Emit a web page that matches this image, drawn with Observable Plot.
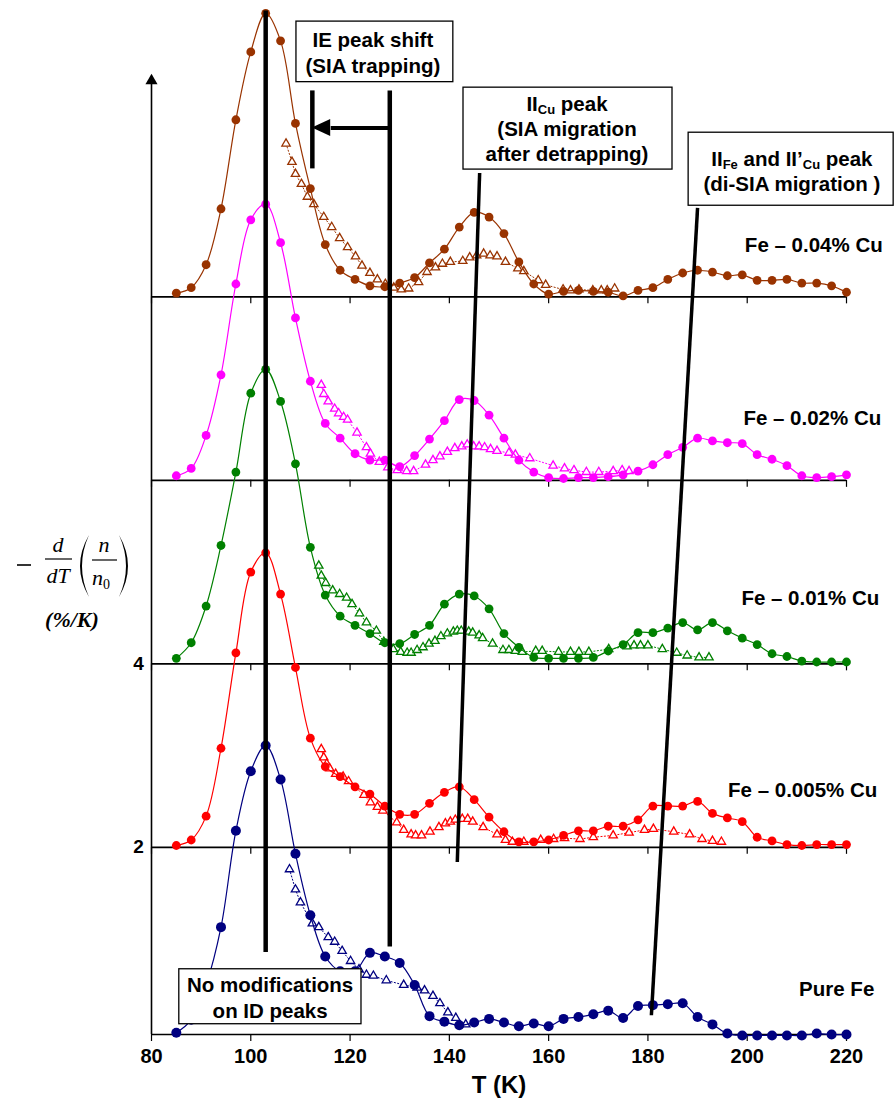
<!DOCTYPE html>
<html>
<head>
<meta charset="utf-8">
<script src="https://cdn.jsdelivr.net/npm/d3@7"></script>
<script src="https://cdn.jsdelivr.net/npm/@observablehq/plot@0.6"></script>
<style>
  body { margin: 0; background: #fff; }
  #chart { width: 896px; height: 1108px; }
</style>
</head>
<body>
<div id="chart"></div>
<script>
// ---- Measurement temperatures (K) of the filled-circle runs ----
const tempsFilled = [85, 88, 91, 94, 97, 100, 103, 106, 109, 112, 115, 118, 121, 124, 127, 130,
  133, 136, 139, 142, 145, 148, 151, 154, 157, 160, 163, 166, 169, 172, 175, 178, 181, 184,
  187, 190, 193, 196, 199, 202, 205, 208, 211, 214, 217, 220];

// ---- -d/dT(n/n0) (%/K), filled circles, relative to each curve's own baseline ----
const cu004 = [0.04, 0.10, 0.35, 0.96, 1.93, 2.67, 3.09, 2.79, 1.89, 1.18, 0.57, 0.29, 0.19, 0.12, 0.11, 0.15,
  0.21, 0.37, 0.52, 0.76, 0.92, 0.87, 0.69, 0.38, 0.14, 0.03, 0.06, 0.07, 0.06, 0.05, 0.01, 0.07, 0.10, 0.19,
  0.26, 0.29, 0.27, 0.23, 0.24, 0.18, 0.18, 0.19, 0.15, 0.15, 0.12, 0.05];
const cu002 = [0.05, 0.13, 0.49, 1.15, 2.14, 2.84, 3.01, 2.59, 1.77, 1.08, 0.62, 0.46, 0.29, 0.22, 0.22, 0.15,
  0.27, 0.45, 0.65, 0.88, 0.87, 0.71, 0.46, 0.22, 0.09, 0.03, 0.02, 0.03, 0.03, 0.04, 0.06, 0.10, 0.17, 0.28,
  0.36, 0.46, 0.43, 0.41, 0.40, 0.28, 0.23, 0.16, 0.05, 0.03, 0.04, 0.06];
const cu001 = [0.06, 0.23, 0.63, 1.29, 2.09, 2.95, 3.21, 2.86, 2.18, 1.27, 0.75, 0.52, 0.42, 0.33, 0.23, 0.22,
  0.32, 0.42, 0.65, 0.76, 0.74, 0.60, 0.33, 0.18, 0.07, 0.06, 0.06, 0.06, 0.07, 0.14, 0.21, 0.34, 0.34, 0.39,
  0.45, 0.37, 0.45, 0.36, 0.28, 0.21, 0.11, 0.08, 0.03, 0.02, 0.02, 0.02];
const cu0005 = [0.02, 0.08, 0.34, 1.08, 2.12, 3.00, 3.21, 2.76, 1.96, 1.19, 0.88, 0.77, 0.66, 0.58, 0.45, 0.36,
  0.36, 0.48, 0.60, 0.66, 0.52, 0.33, 0.17, 0.06, 0.06, 0.08, 0.13, 0.18, 0.18, 0.23, 0.23, 0.30, 0.45, 0.45,
  0.45, 0.50, 0.37, 0.32, 0.28, 0.11, 0.07, 0.03, 0.02, 0.03, 0.03, 0.03];
const pureFe = [-0.02, 0.12, 0.50, 1.13, 2.18, 2.83, 3.11, 2.74, 1.93, 1.26, 0.81, 0.65, 0.65, 0.85, 0.81, 0.74,
  0.50, 0.16, 0.10, 0.06, 0.09, 0.13, 0.09, 0.05, 0.08, 0.05, 0.13, 0.15, 0.18, 0.22, 0.14, 0.27, 0.28, 0.29,
  0.30, 0.15, 0.07, -0.03, -0.05, -0.05, -0.05, -0.05, -0.05, -0.03, -0.04, -0.04];

// ---- Open-triangle runs: temperatures and values ----
const cu004TriT = [107.1, 108.3, 109.0, 110.2, 111.4, 112.7, 114.7, 116.3, 117.9, 119.5, 121.1, 122.4, 124.0,
  125.5, 127.1, 128.8, 130.3, 131.8, 133.8, 135.5, 137.2, 138.6, 140.2, 142.7, 144.1, 145.5, 146.9, 148.2,
  149.6, 151.3, 153.8, 155.0, 157.9, 159.4, 162.9, 164.4, 166.1, 168.9, 170.6, 171.8, 173.3];
const cu004TriV = [1.67, 1.47, 1.34, 1.23, 1.09, 1.01, 0.87, 0.76, 0.64, 0.54, 0.44, 0.34, 0.26, 0.19, 0.14,
  0.10, 0.08, 0.09, 0.16, 0.27, 0.32, 0.36, 0.38, 0.39, 0.43, 0.45, 0.47, 0.45, 0.44, 0.38, 0.31, 0.28, 0.18,
  0.13, 0.08, 0.07, 0.08, 0.07, 0.07, 0.07, 0.09];
const cu002TriT = [114.2, 114.7, 115.6, 116.9, 117.7, 118.7, 119.5, 121.4, 123.3, 124.1, 125.9, 127.6, 129.5,
  131.4, 132.8, 135.2, 136.7, 138.1, 139.6, 141.1, 142.5, 143.6, 144.9, 146.0, 147.1, 148.3, 149.6, 152.0,
  153.3, 156.2, 160.9, 163.2, 165.1, 167.6, 170.1, 173.0, 174.8, 176.2];
const cu002TriV = [1.04, 0.94, 0.86, 0.78, 0.73, 0.69, 0.66, 0.52, 0.36, 0.29, 0.20, 0.14, 0.11, 0.10, 0.10,
  0.17, 0.22, 0.26, 0.31, 0.35, 0.37, 0.39, 0.37, 0.37, 0.36, 0.34, 0.32, 0.30, 0.28, 0.24, 0.16, 0.13, 0.11,
  0.09, 0.09, 0.10, 0.11, 0.10];
const cu001TriT = [113.7, 114.2, 115.1, 116.5, 117.9, 119.3, 120.4, 121.9, 123.3, 125.3, 126.8, 128.7, 130.2,
  131.5, 132.3, 133.5, 134.7, 135.9, 137.1, 138.3, 139.6, 140.8, 141.6, 142.4, 143.9, 144.7, 146.0, 146.7,
  148.7, 150.8, 152.0, 153.3, 154.7, 157.4, 158.7, 162.0, 164.4, 166.1, 168.1, 172.1, 175.8, 177.2, 178.5,
  180.0, 182.9, 185.8, 187.9, 190.3, 192.3];
const cu001TriV = [1.07, 0.96, 0.88, 0.80, 0.76, 0.72, 0.65, 0.55, 0.45, 0.36, 0.24, 0.16, 0.13, 0.12, 0.12,
  0.15, 0.18, 0.22, 0.25, 0.30, 0.33, 0.35, 0.36, 0.36, 0.35, 0.34, 0.31, 0.28, 0.22, 0.15, 0.15, 0.14, 0.13,
  0.14, 0.14, 0.13, 0.13, 0.13, 0.13, 0.16, 0.19, 0.20, 0.20, 0.20, 0.16, 0.12, 0.09, 0.07, 0.07];
const cu0005TriT = [114.2, 114.7, 115.3, 115.9, 117.1, 118.6, 119.7, 122.8, 124.1, 125.5, 126.6, 129.4, 130.8,
  132.3, 133.2, 134.4, 136.1, 137.9, 139.2, 140.2, 141.2, 142.6, 143.7, 144.7, 146.8, 149.6, 151.3, 152.7,
  155.0, 158.4, 161.0, 163.2, 166.3, 169.0, 173.0, 176.2, 179.3, 181.1, 185.2, 188.4, 190.9, 193.0, 194.8];
const cu0005TriV = [1.07, 0.98, 0.91, 0.86, 0.80, 0.77, 0.72, 0.57, 0.49, 0.44, 0.40, 0.27, 0.19, 0.14, 0.13,
  0.13, 0.17, 0.22, 0.26, 0.28, 0.30, 0.31, 0.31, 0.28, 0.22, 0.14, 0.08, 0.06, 0.06, 0.08, 0.09, 0.10, 0.09,
  0.11, 0.13, 0.16, 0.19, 0.20, 0.17, 0.14, 0.09, 0.07, 0.06];
const pureFeTriT = [107.8, 109.0, 110.0, 112.4, 113.7, 115.6, 116.9, 118.4, 120.1, 121.8, 123.3, 124.7, 127.3,
  130.8, 133.5, 135.0, 136.7, 138.1, 139.7, 141.3, 143.3];
const pureFeTriV = [1.76, 1.54, 1.40, 1.17, 1.13, 1.02, 0.97, 0.87, 0.76, 0.67, 0.61, 0.60, 0.55, 0.50, 0.47,
  0.44, 0.38, 0.30, 0.20, 0.14, 0.07];

// ---- Alloys, stacking offsets and colours ----
const alloyNames = ["Fe \u2013 0.04% Cu", "Fe \u2013 0.02% Cu", "Fe \u2013 0.01% Cu", "Fe \u2013 0.005% Cu", "Pure Fe"];
const offsets = [8, 6, 4, 2, 0];
const colors = ["#993300", "#ff00ff", "#008000", "#ff0000", "#000080"];
const filledValues = [cu004, cu002, cu001, cu0005, pureFe];
const triTemps = [cu004TriT, cu002TriT, cu001TriT, cu0005TriT, pureFeTriT];
const triValues = [cu004TriV, cu002TriV, cu001TriV, cu0005TriV, pureFeTriV];

// ---- Axis ticks ----
const xTicks = [80, 100, 120, 140, 160, 180, 200, 220];
const yTickLabels = [2, 4];
const yDomain = [-0.04, 11.23];
const axisTop = 10.355;

// ---- Tidy tables built from the arrays above ----
const filled = alloyNames.flatMap((name, s) =>
  tempsFilled.map((T, i) => ({alloy: name, T, v: filledValues[s][i] + offsets[s]})));
const triangles = alloyNames.flatMap((name, s) =>
  triTemps[s].map((T, i) => ({alloy: name, T, v: triValues[s][i] + offsets[s]})));
const separatorTicks = offsets.filter(o => o > 0).flatMap(o => xTicks.map(T => ({T, v: o})));

// ---- Annotations (data units: T in K, value in %/K on the stacked scale) ----
const guideLines = [
  {x1: 103.0, y1: 11.12, x2: 103.0, y2: 0.86, w: 4.5},   // ID peaks unchanged
  {x1: 128.0, y1: 10.25, x2: 128.0, y2: 0.92, w: 4.5},   // IE peak, pure Fe
  {x1: 112.4, y1: 10.25, x2: 112.4, y2: 9.40, w: 4.5},   // IE peak, shifted
  {x1: 146.1, y1: 9.35, x2: 141.6, y2: 1.84, w: 3.5},    // II_Cu
  {x1: 190.0, y1: 8.97, x2: 180.7, y2: 0.17, w: 3.5}     // II_Fe / II'_Cu
];
const shiftArrow = {from: 128.0, to: 112.4, headBase: 116.1, v: 9.84};
const boxes = [
  {x1: 109.2, x2: 140.8, y1: 11.00, y2: 10.34, cx: 124.7, lines: [10.80, 10.52]},
  {x1: 142.85, x2: 184.95, y1: 10.28, y2: 9.387, cx: 163.8, lines: [10.104, 9.831, 9.559]},
  {x1: 188.2, x2: 229.5, y1: 9.789, y2: 8.993, cx: 209.1, lines: [9.505, 9.233]},
  {x1: 85.6, x2: 122.3, y1: 0.671, y2: 0.072, cx: 104.0, lines: [0.497, 0.214]}
];
// Box texts: arrays of [text, isSubscript] runs per line
const boxTexts = [
  [[["IE peak shift", false]], [["(SIA trapping)", false]]],
  [[["II", false], ["Cu", true], [" peak", false]], [["(SIA migration", false]], [["after detrapping)", false]]],
  [[["II", false], ["Fe", true], [" and II\u2019", false], ["Cu", true], [" peak", false]], [["(di-SIA migration )", false]]],
  [[["No modifications", false]], [["on ID peaks", false]]]
];
const alloyLabelPos = [
  {T: 227.3, v: 8.56}, {T: 227.0, v: 6.67}, {T: 226.6, v: 4.71}, {T: 226.2, v: 2.62}, {T: 225.6, v: 0.45}
];

const sansBold = "'Liberation Sans', Arial, Helvetica, sans-serif";

const seriesMarks = alloyNames.flatMap((name, s) => {
  const f = filled.filter(d => d.alloy === name);
  const t = triangles.filter(d => d.alloy === name);
  return [
    Plot.line(t, {x: "T", y: "v", stroke: colors[s], strokeWidth: 1, strokeDasharray: "1.2 2.2"}),
    Plot.dot(t, {x: "T", y: "v", symbol: "triangle", r: 3.1, fill: "white", stroke: colors[s], strokeWidth: 1.3}),
    Plot.line(f, {x: "T", y: "v", stroke: colors[s], strokeWidth: 1.2, curve: "catmull-rom"}),
    Plot.dot(f, {x: "T", y: "v", r: s === 4 ? 5 : 4.4, fill: colors[s], stroke: "none"})
  ];
});

const plot = Plot.plot({
  width: 896,
  height: 1108,
  marginLeft: 151,
  marginRight: 50,
  marginTop: 0,
  marginBottom: 74,
  x: {domain: [80, 220]},
  y: {domain: yDomain, axis: null},
  style: {fontFamily: sansBold, background: "white", overflow: "visible"},
  marks: [
    // stacked baselines with their downward ticks
    Plot.ruleY(offsets.filter(o => o > 0), {x1: 80, x2: 220, stroke: "black", strokeWidth: 1.7}),
    Plot.ruleX(separatorTicks, {x: "T", y1: "v", y2: "v", insetBottom: -7, stroke: "black", strokeWidth: 1.2}),
    Plot.ruleY([yDomain[0]], {x1: 80, x2: 220, stroke: "black", strokeWidth: 1.7}),
    Plot.axisX({ticks: xTicks, tickSize: 7, tickPadding: 7, strokeWidth: 1.2, fontSize: 20,
      fontWeight: "bold", fontFamily: "'Liberation Sans Narrow', 'Arial Narrow', " + sansBold, label: null,
      tickFormat: d => String(d)}),
    Plot.text(["T (K)"], {x: 150, frameAnchor: "bottom", dy: 58, fontSize: 24, fontWeight: "bold",
      fontFamily: "'Liberation Sans Narrow', 'Arial Narrow', " + sansBold}),
    // vertical axis with its arrowhead
    Plot.ruleX([80], {y1: yDomain[0], y2: axisTop, stroke: "black", strokeWidth: 1.6}),
    Plot.dot([axisTop], {x: 80, y: d => d, symbol: "triangle", r: 4.5, fill: "black"}),
    Plot.text(yTickLabels, {x: 80, y: d => d, text: d => String(d), dx: -13, fontSize: 19, fontWeight: "bold"}),
    // data
    ...seriesMarks,
    // guide lines and IE shift arrow
    Plot.link(guideLines, {x1: "x1", y1: "y1", x2: "x2", y2: "y2", stroke: "black", strokeWidth: d => d.w}),
    Plot.link([shiftArrow], {x1: "from", x2: "headBase", y1: "v", y2: "v", stroke: "black", strokeWidth: 4}),
    // annotation boxes
    Plot.rect(boxes, {x1: "x1", x2: "x2", y1: "y1", y2: "y2", fill: "white", stroke: "black", strokeWidth: 1.3}),
    // alloy names
    Plot.text(alloyNames, {x: (d, i) => alloyLabelPos[i].T, y: (d, i) => alloyLabelPos[i].v, text: d => d,
      textAnchor: "end", fontSize: 20.5, fontWeight: "bold", fill: "black"})
  ]
});

document.getElementById("chart").appendChild(plot);

const svg = d3.select(plot);
const xs = plot.scale("x").apply;
const ys = plot.scale("y").apply;

// filled head of the IE shift arrow
svg.append("path")
  .attr("d", () => {
    const tipX = xs(shiftArrow.to), baseX = xs(shiftArrow.headBase), y = ys(shiftArrow.v);
    return `M${tipX},${y}L${baseX},${y - 8.5}L${baseX},${y + 8.5}Z`;
  })
  .attr("fill", "black");

// texts inside the annotation boxes
const boxG = svg.append("g")
  .attr("font-family", sansBold).attr("font-weight", "bold").attr("font-size", 20.5)
  .attr("text-anchor", "middle").attr("fill", "black");
boxes.forEach((b, k) => {
  boxTexts[k].forEach((runs, j) => {
    const t = boxG.append("text").attr("x", xs(b.cx)).attr("y", ys(b.lines[j])).attr("dy", "0.36em");
    let shifted = false;
    runs.forEach(([str, sub]) => {
      const span = t.append("tspan").text(str);
      if (sub && !shifted) { span.attr("dy", 3.5).attr("font-size", 13); shifted = true; }
      else if (sub) { span.attr("font-size", 13); }
      else if (shifted) { span.attr("dy", -3.5); shifted = false; }
    });
  });
});

// vertical axis title:  -(d/dT)(n/n0)  (%/K)
const lab = svg.append("g")
  .attr("font-family", "'Liberation Serif', 'Times New Roman', serif").attr("fill", "black");
lab.append("line").attr("x1", 17).attr("x2", 31).attr("y1", 565).attr("y2", 565)
  .attr("stroke", "black").attr("stroke-width", 1.6);
lab.append("text").attr("x", 58).attr("y", 552).attr("text-anchor", "middle")
  .attr("font-style", "italic").attr("font-size", 22).text("d");
lab.append("line").attr("x1", 45).attr("x2", 72).attr("y1", 559).attr("y2", 559)
  .attr("stroke", "black").attr("stroke-width", 1.2);
lab.append("text").attr("x", 58).attr("y", 583).attr("text-anchor", "middle")
  .attr("font-style", "italic").attr("font-size", 22).text("dT");
lab.append("path").attr("d", "M89,535 Q71,566 89,597 Q75,566 89,535 Z").attr("fill", "black");
lab.append("text").attr("x", 104).attr("y", 552).attr("text-anchor", "middle")
  .attr("font-style", "italic").attr("font-size", 22).text("n");
lab.append("line").attr("x1", 92).attr("x2", 117).attr("y1", 560).attr("y2", 560)
  .attr("stroke", "black").attr("stroke-width", 1.2);
const n0 = lab.append("text").attr("x", 101).attr("y", 585).attr("text-anchor", "middle")
  .attr("font-style", "italic").attr("font-size", 22);
n0.append("tspan").text("n");
n0.append("tspan").attr("font-style", "normal").attr("font-size", 14).attr("dy", 4).text("0");
lab.append("path").attr("d", "M119,535 Q137,566 119,597 Q133,566 119,535 Z").attr("fill", "black");
lab.append("text").attr("x", 72).attr("y", 627).attr("text-anchor", "middle")
  .attr("font-style", "italic").attr("font-weight", "bold").attr("font-size", 22).text("(%/K)");
</script>
</body>
</html>
